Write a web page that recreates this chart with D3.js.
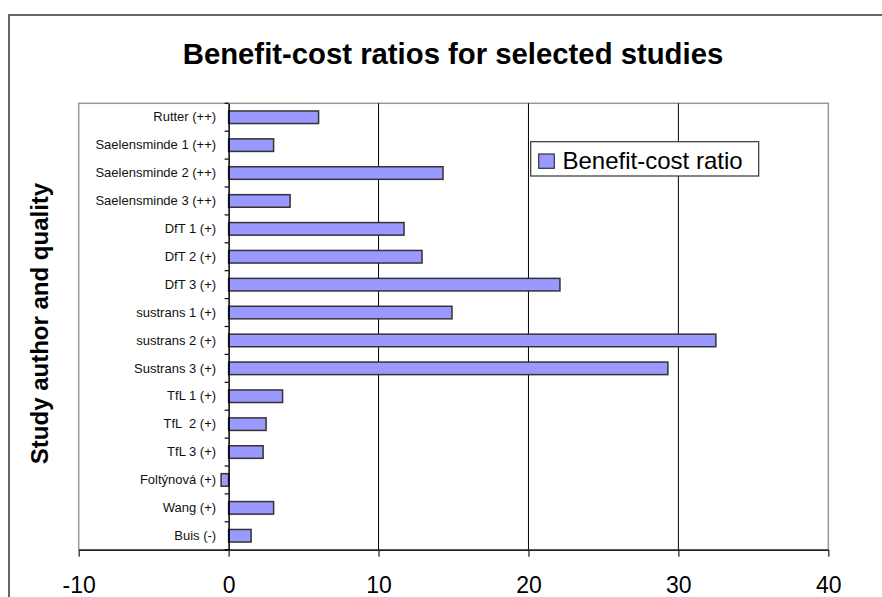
<!DOCTYPE html>
<html>
<head>
<meta charset="utf-8">
<script src="https://cdn.jsdelivr.net/npm/d3@7"></script>
<style>
  html, body { margin: 0; padding: 0; background: #fff; }
  svg { display: block; font-family: "Liberation Sans", Arial, sans-serif; }
  text { white-space: pre; }
</style>
</head>
<body>
<svg id="chart" width="882" height="597"></svg>
<script>
const categories = [
  "Rutter (++)", "Saelensminde 1 (++)", "Saelensminde 2 (++)", "Saelensminde 3 (++)",
  "DfT 1 (+)", "DfT 2 (+)", "DfT 3 (+)", "sustrans 1 (+)", "sustrans 2 (+)",
  "Sustrans 3 (+)", "TfL 1 (+)", "TfL  2 (+)", "TfL 3 (+)", "Foltýnová (+)",
  "Wang (+)", "Buis (-)"
];
const values = [6.0, 3.0, 14.3, 4.1, 11.7, 12.9, 22.1, 14.9, 32.5, 29.3, 3.6, 2.5, 2.3, -0.5, 3.0, 1.5];
const xTicks = [-10, 0, 10, 20, 30, 40];
const xTickLabels = ["-10", "0", "10", "20", "30", "40"];
const seriesName = "Benefit-cost ratio";
const titleText = "Benefit-cost ratios for selected studies";
const yTitle = "Study author and quality";

const svg = d3.select("#chart");
const L = 78.7, R = 828.3, T = 103.3, B = 549.7;

// outer frame
svg.append("rect").attr("x", 9).attr("y", 15).attr("width", 900).attr("height", 600)
  .attr("fill", "#fff").attr("stroke", "#666").attr("stroke-width", 2);

const x = d3.scaleLinear().domain([-10, 40]).range([L, R]);
const y = d3.scaleBand().domain(categories).range([T, B]).paddingInner(0.55).paddingOuter(0.275);

// plot area border (grey)
svg.append("rect").attr("x", L).attr("y", T).attr("width", R - L).attr("height", B - T)
  .attr("fill", "none").attr("stroke", "#999").attr("stroke-width", 1.5);

// gridlines
svg.append("g").selectAll("line").data(xTicks.filter(d => d > 0 && d < 40)).join("line")
  .attr("x1", d => x(d)).attr("x2", d => x(d)).attr("y1", T).attr("y2", B)
  .attr("stroke", "#000").attr("stroke-width", 1);

// bars
svg.append("g").selectAll("rect").data(values).join("rect")
  .attr("x", d => x(Math.min(0, d)))
  .attr("width", d => Math.abs(x(d) - x(0)))
  .attr("y", (d, i) => y(categories[i]))
  .attr("height", y.bandwidth())
  .attr("fill", "#9999ff").attr("stroke", "#333").attr("stroke-width", 1.5);

// bottom axis
const xAxis = svg.append("g").attr("transform", `translate(0,${B})`)
  .call(d3.axisBottom(x).tickValues(xTicks).tickSize(7).tickSizeOuter(0).tickPadding(19.5)
    .tickFormat((d, i) => xTickLabels[i]));
xAxis.select(".domain").attr("stroke", "#222").attr("stroke-width", 1.5);
xAxis.selectAll(".tick line").attr("stroke", "#222").attr("stroke-width", 1.2);
xAxis.selectAll("text").attr("font-size", 23).attr("fill", "#000")
  .attr("font-family", "Liberation Sans, Arial, sans-serif");

// left axis at zero
const yAxis = svg.append("g").attr("transform", `translate(${x(0)},0)`)
  .call(d3.axisLeft(y).tickSize(0).tickSizeOuter(0).tickPadding(12.5));
yAxis.select(".domain").attr("stroke", "#000").attr("stroke-width", 1.5);
yAxis.selectAll("text").attr("font-size", 13).attr("fill", "#111")
  .attr("font-family", "Liberation Sans, Arial, sans-serif");
// boundary ticks
svg.append("g").selectAll("line").data(d3.range(categories.length + 1)).join("line")
  .attr("x1", x(0) - 4).attr("x2", x(0))
  .attr("y1", i => T + i * y.step()).attr("y2", i => T + i * y.step())
  .attr("stroke", "#000").attr("stroke-width", 1.2);

// title
svg.append("text").attr("x", 453).attr("y", 64).attr("text-anchor", "middle")
  .attr("font-size", 29.3).attr("font-weight", "bold").attr("fill", "#000").text(titleText);

// y-axis title
svg.append("text").attr("transform", "translate(47.5,323.5) rotate(-90)")
  .attr("text-anchor", "middle").attr("font-size", 24).attr("font-weight", "bold")
  .attr("fill", "#000").text(yTitle);

// legend
const lg = svg.append("g");
lg.append("rect").attr("x", 530.7).attr("y", 141.7).attr("width", 228).attr("height", 34.3)
  .attr("fill", "#fff").attr("stroke", "#333").attr("stroke-width", 1.2);
lg.append("rect").attr("x", 538.7).attr("y", 154).attr("width", 15.6).attr("height", 14.3)
  .attr("fill", "#9999ff").attr("stroke", "#333").attr("stroke-width", 1.2);
lg.append("text").attr("x", 562.5).attr("y", 168.8).attr("font-size", 24).attr("fill", "#000").text(seriesName);
</script>
</body>
</html>
